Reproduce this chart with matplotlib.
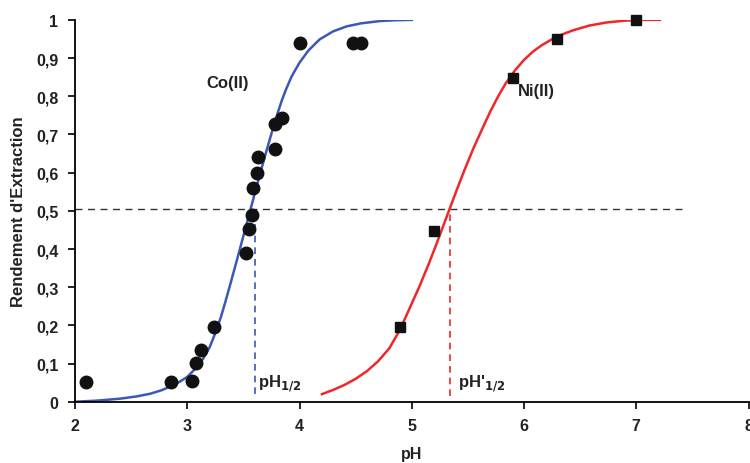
import matplotlib
matplotlib.use("Agg")
import matplotlib.pyplot as plt

plt.rcParams['font.family'] = ['Liberation Sans', 'DejaVu Sans']

# points mesurés Co(II)
co_ph = [2.10, 2.855, 3.04, 3.08, 3.12, 3.24, 3.52, 3.55, 3.58, 3.59, 3.62, 3.63,
         3.78, 3.78, 3.84, 4.00, 4.48, 4.55]
co_r = [0.051, 0.051, 0.055, 0.101, 0.135, 0.196, 0.389, 0.452, 0.489, 0.559, 0.599,
        0.642, 0.661, 0.728, 0.743, 0.940, 0.940, 0.940]

# points mesurés Ni(II)
ni_ph = [4.894, 5.197, 5.90, 6.29, 7.0]
ni_r = [0.195, 0.448, 0.849, 0.951, 0.999]

# courbes
co_fit_ph = [2.0, 2.2, 2.4, 2.55, 2.67, 2.77, 2.85, 2.93, 3.0, 3.07, 3.14, 3.2, 3.25,
             3.3, 3.34, 3.38, 3.42, 3.46, 3.5, 3.54, 3.58, 3.62, 3.66, 3.7, 3.74,
             3.79, 3.84, 3.88, 3.93, 4.0, 4.08, 4.18, 4.3, 4.42, 4.55, 4.72, 4.85, 5.0]
co_fit_r = [0.0, 0.003, 0.008, 0.014, 0.021, 0.030, 0.040, 0.052, 0.065, 0.086, 0.112,
            0.143, 0.180, 0.222, 0.262, 0.304, 0.347, 0.390, 0.434, 0.478, 0.522,
            0.566, 0.609, 0.651, 0.692, 0.742, 0.787, 0.818, 0.852, 0.888, 0.920,
            0.949, 0.970, 0.983, 0.991, 0.997, 0.999, 1.0]

ni_fit_ph = [4.20, 4.30, 4.40, 4.50, 4.60, 4.70, 4.80, 4.894, 4.98, 5.07, 5.15, 5.22,
             5.28, 5.34, 5.40, 5.47, 5.55, 5.63, 5.70, 5.77, 5.84, 5.92, 6.0, 6.08,
             6.16, 6.26, 6.35, 6.44, 6.58, 6.73, 6.9, 7.05, 7.21]
ni_fit_r = [0.020, 0.031, 0.044, 0.060, 0.080, 0.106, 0.140, 0.188, 0.244, 0.303,
            0.360, 0.413, 0.460, 0.507, 0.554, 0.607, 0.664, 0.716, 0.760, 0.800,
            0.835, 0.868, 0.895, 0.917, 0.934, 0.951, 0.963, 0.973, 0.985, 0.993,
            0.998, 1.0, 1.0]

ph_half = 3.6
ph_half_ni = 5.34
half = 0.505

fig = plt.figure(figsize=(7.5, 4.64), dpi=100)
ax = fig.add_axes([0.1, 0.132, 0.898, 0.823])

ax.plot(co_fit_ph, co_fit_r, color='#3a58b4', lw=1.8, zorder=2)
ax.plot(ni_fit_ph, ni_fit_r, color='#f0262a', lw=1.8, zorder=2)

ax.plot([2, 7.45], [half, half], ls=(0, (5, 4)), color='#333333', lw=1.0, zorder=1)
ax.plot([ph_half, ph_half], [0.02, half], ls=(0, (4, 3)), color='#3a58b4', lw=1.2, zorder=1)
ax.plot([ph_half_ni, ph_half_ni], [0.016, half], ls=(0, (4, 3)), color='#f0262a', lw=1.2, zorder=1)

ax.plot(co_ph, co_r, 'o', color='#111111', ms=9, clip_on=False, zorder=3)
ax.plot(ni_ph, ni_r, 's', color='#111111', ms=7.8, clip_on=False, zorder=3)

ax.text(3.36, 0.835, 'Co(II)', fontsize=12, fontweight='bold', color='#222222',
        ha='center', va='center')
ax.text(6.11, 0.814, 'Ni(II)', fontsize=12, fontweight='bold', color='#222222',
        ha='center', va='center')
ax.text(3.63, 0.05, 'pH$_{\\mathbf{1/2}}$', fontsize=12, fontweight='bold',
        color='#222222', ha='left', va='center')
ax.text(5.41, 0.05, "pH'$_{\\mathbf{1/2}}$", fontsize=12, fontweight='bold',
        color='#222222', ha='left', va='center')

ax.set_xlim(2, 8)
ax.set_ylim(0, 1)
ax.set_xticks([2, 3, 4, 5, 6, 7, 8])
ax.set_yticks([i / 10 for i in range(11)])
ax.set_yticklabels(['0'] + ['0,%d' % i for i in range(1, 10)] + ['1'])
ax.spines['top'].set_visible(False)
ax.spines['right'].set_visible(False)
ax.spines['left'].set_linewidth(1.3)
ax.spines['bottom'].set_linewidth(1.3)
ax.tick_params(direction='out', length=5, width=1.2, labelsize=11.5, pad=7)
for lab in ax.get_xticklabels() + ax.get_yticklabels():
    lab.set_fontweight('bold')
    lab.set_color('#222222')

ax.set_xlabel('pH', fontsize=11.5, fontweight='bold', color='#222222', labelpad=9)
ax.set_ylabel("Rendement d'Extraction", fontsize=12, fontweight='bold',
              color='#222222', labelpad=7)

fig.savefig('out.png', dpi=100)
